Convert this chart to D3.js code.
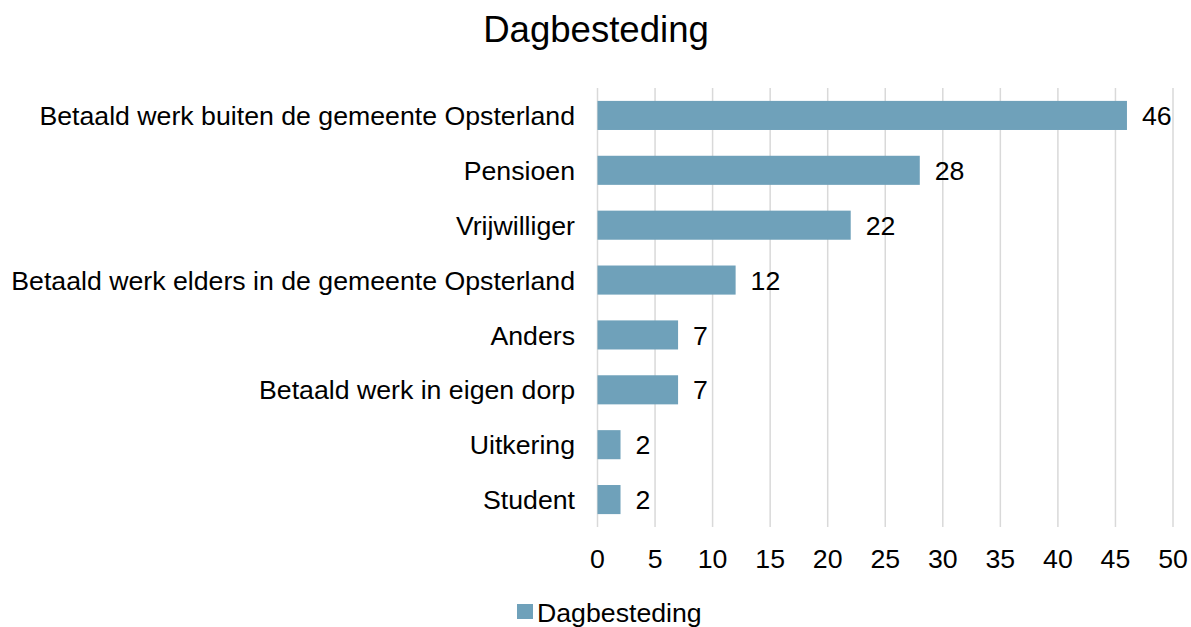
<!DOCTYPE html>
<html lang="en">
<head>
    <meta charset="UTF-8">
    <title>Dagbesteding</title>
    <style>
        body { margin: 0; background: #fff; }
        text { font-family: "Liberation Sans", Arial, sans-serif; fill: #000; }
    </style>
</head>
<body>
    <svg id="chart" width="1191" height="627"></svg>
    <script src="https://d3js.org/d3.v7.min.js"></script>
    <script>
        const categories = [
            "Betaald werk buiten de gemeente Opsterland",
            "Pensioen",
            "Vrijwilliger",
            "Betaald werk elders in de gemeente Opsterland",
            "Anders",
            "Betaald werk in eigen dorp",
            "Uitkering",
            "Student"
        ];
        const values = [46, 28, 22, 12, 7, 7, 2, 2];
        const xTicks = [0, 5, 10, 15, 20, 25, 30, 35, 40, 45, 50];
        const seriesName = "Dagbesteding";

        const barColor = "#6fa1ba";
        const fontSize = 26.7;
        const svg = d3.select("#chart");

        // plot area bounds (window.top is reserved, so prefixed names)
        const plotLeft = 597.5, plotRight = 1173, plotTop = 88, plotBottom = 527;

        const x = d3.scaleLinear().domain([0, 50]).range([plotLeft, plotRight]);
        const y = d3.scaleBand().domain(categories).range([plotTop, plotBottom]).paddingInner(0.47).paddingOuter(0.235);

        // title
        svg.append("text")
            .attr("x", 596).attr("y", 42)
            .attr("text-anchor", "middle")
            .attr("font-size", 36.6)
            .text("Dagbesteding");

        // gridlines
        svg.append("g").selectAll("line")
            .data(xTicks)
            .join("line")
            .attr("x1", d => x(d)).attr("x2", d => x(d))
            .attr("y1", plotTop).attr("y2", plotBottom)
            .attr("stroke", "#d9d9d9")
            .attr("stroke-width", 1.5);

        // bars
        svg.append("g").selectAll("rect")
            .data(values)
            .join("rect")
            .attr("x", x(0))
            .attr("y", (d, i) => y(categories[i]))
            .attr("width", d => x(d) - x(0))
            .attr("height", y.bandwidth())
            .attr("fill", barColor);

        // value labels
        svg.append("g").selectAll("text")
            .data(values)
            .join("text")
            .attr("x", d => x(d) + 15)
            .attr("y", (d, i) => y(categories[i]) + y.bandwidth() / 2)
            .attr("dy", "0.36em")
            .attr("font-size", fontSize)
            .text(d => d);

        // category axis
        svg.append("g").selectAll("text")
            .data(categories)
            .join("text")
            .attr("x", 575)
            .attr("y", d => y(d) + y.bandwidth() / 2)
            .attr("dy", "0.36em")
            .attr("text-anchor", "end")
            .attr("font-size", fontSize)
            .text(d => d);

        // x axis tick labels
        svg.append("g").selectAll("text")
            .data(xTicks)
            .join("text")
            .attr("x", d => x(d))
            .attr("y", 568)
            .attr("text-anchor", "middle")
            .attr("font-size", fontSize)
            .text(d => d);

        // legend
        const legend = svg.append("g");
        legend.append("rect")
            .attr("x", 517).attr("y", 604)
            .attr("width", 16).attr("height", 15)
            .attr("fill", barColor);
        legend.append("text")
            .attr("x", 537).attr("y", 612)
            .attr("dy", "0.36em")
            .attr("font-size", fontSize)
            .text(seriesName);
    </script>
</body>
</html>
